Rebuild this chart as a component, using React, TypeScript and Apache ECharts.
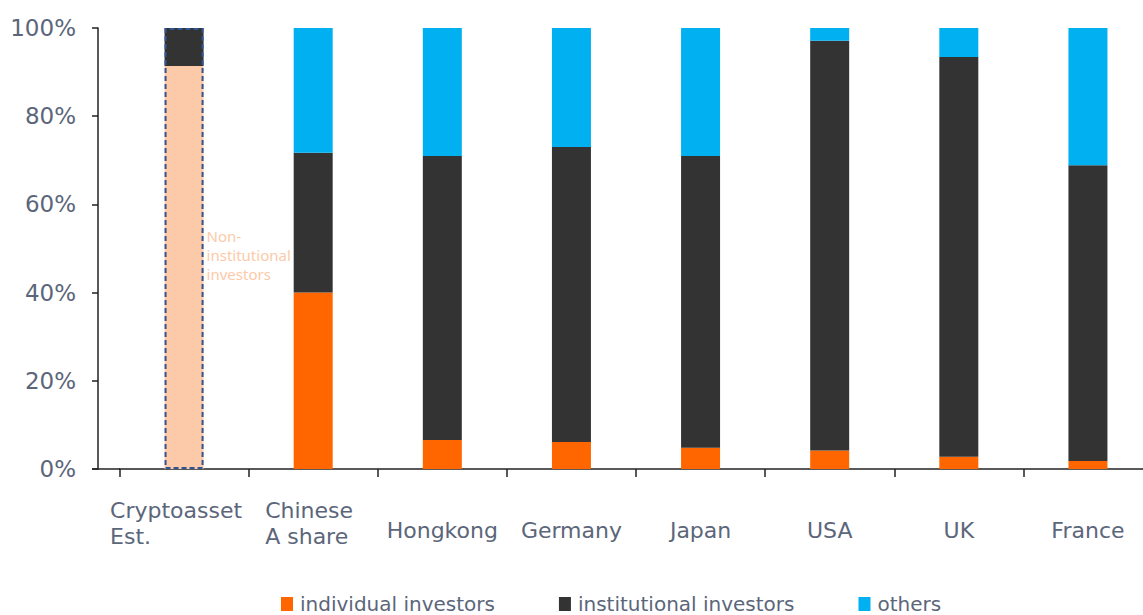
import React, { useEffect, useRef } from "react";
import * as echarts from "echarts";

const categories = ["Cryptoasset\nEst.", "Chinese\nA share", "Hongkong", "Germany", "Japan", "USA", "UK", "France"];
const individual = ["-", 40.0, 6.6, 6.1, 4.8, 4.2, 2.8, 1.8];
const nonInstitutional = [91.4, "-", "-", "-", "-", "-", "-", "-"];
const institutional = [8.6, 31.7, 64.4, 66.9, 66.2, 92.9, 90.6, 67.1];
const others = ["-", 28.3, 29.0, 27.0, 29.0, 2.9, 6.6, 31.1];
const estimateOutline = [100, "-", "-", "-", "-", "-", "-", "-"];
const yTicks = [0, 20, 40, 60, 80, 100];

const FONT = "'DejaVu Sans', 'Noto Sans', sans-serif";
const LABEL_COLOR = "#5B667A";

export default function App() {
  const ref = useRef<HTMLDivElement>(null);
  useEffect(() => {
    if (!ref.current) return;
    const chart = echarts.init(ref.current, null, { renderer: "svg" });
    const barWidth = 39;
    const base = { lineHeight: 26, fontFamily: FONT, fontSize: 22, color: LABEL_COLOR, align: "left" };
    chart.setOption({
      animation: false,
      backgroundColor: "#ffffff",
      grid: { left: 119.5, top: 28, width: 1033, height: 441, containLabel: false },
      legend: {
        data: ["individual investors", "institutional investors", "others"],
        left: 276,
        top: 589,
        icon: "rect",
        itemWidth: 12,
        itemHeight: 14,
        itemGap: 64,
        textStyle: { fontFamily: FONT, fontSize: 20, color: LABEL_COLOR, padding: [0, 0, 0, 2] },
      },
      xAxis: {
        type: "category",
        data: categories,
        axisLine: { show: true, lineStyle: { color: "#222", width: 1.5 } },
        axisTick: { show: true, length: 8, lineStyle: { color: "#222", width: 1.5 } },
        axisLabel: {
          margin: 28,
          interval: 0,
          fontFamily: FONT,
          fontSize: 22,
          color: LABEL_COLOR,
          formatter: (v: string, idx: number) => {
            const lines = v.split("\n");
            if (lines.length > 1) {
              const key = idx === 0 ? "c" : "a";
              return lines.map((l) => "{" + key + "|" + l + "}").join("\n");
            }
            return "{s|" + v + "}";
          },
          rich: {
            c: { ...base, width: 130, padding: [0, 18, 0, 0] },
            a: { ...base, width: 88, padding: [0, 8, 0, 0] },
            s: { padding: [22, 0, 0, 0], fontFamily: FONT, fontSize: 22, color: LABEL_COLOR },
          },
        },
      },
      yAxis: {
        type: "value",
        min: 0,
        max: 100,
        interval: 20,
        offset: 21.5,
        splitLine: { show: false },
        axisLine: { show: true, lineStyle: { color: "#222", width: 1.5 } },
        axisTick: { show: true, length: 6, lineStyle: { color: "#222", width: 1.5 } },
        axisLabel: {
          margin: 22,
          fontFamily: FONT,
          fontSize: 23,
          color: LABEL_COLOR,
          formatter: (v: number) => (yTicks.includes(v) ? v + "%" : ""),
        },
      },
      graphic: [
        { type: "line", shape: { x1: 92, y1: 469, x2: 120, y2: 469 }, style: { stroke: "#222", lineWidth: 1.5 } },
      ],
      series: [
        {
          name: "individual investors",
          type: "bar",
          stack: "total",
          barWidth,
          barGap: "-100%",
          data: individual,
          itemStyle: { color: "#FF6600" },
        },
        {
          name: "Non-institutional investors",
          type: "bar",
          stack: "total",
          barWidth,
          barGap: "-100%",
          data: nonInstitutional,
          itemStyle: { color: "#FCCAA8" },
          label: {
            show: true,
            position: "right",
            distance: 3,
            offset: [0, -12],
            formatter: "Non-\ninstitutional\ninvestors",
            fontFamily: "'Noto Sans', sans-serif",
            fontSize: 15,
            lineHeight: 19,
            align: "left",
            color: "#FCCAA8",
          },
        },
        {
          name: "institutional investors",
          type: "bar",
          stack: "total",
          barWidth,
          barGap: "-100%",
          data: institutional,
          itemStyle: { color: "#333333" },
        },
        {
          name: "others",
          type: "bar",
          stack: "total",
          barWidth,
          barGap: "-100%",
          data: others,
          itemStyle: { color: "#00B0F0" },
        },
        {
          name: "Estimate outline",
          type: "bar",
          barWidth,
          barGap: "-100%",
          data: estimateOutline,
          silent: true,
          z: 5,
          itemStyle: {
            color: "rgba(0,0,0,0)",
            borderColor: "#2F5597",
            borderWidth: 2,
            borderType: [5, 3],
          },
        },
      ],
    });
    return () => chart.dispose();
  }, []);
  return (
    <div style={{ width: 1143, height: 615, position: "absolute", left: 0, top: 0, overflow: "hidden" }}>
      <div ref={ref} style={{ width: 1165, height: 615 }} />
    </div>
  );
}
